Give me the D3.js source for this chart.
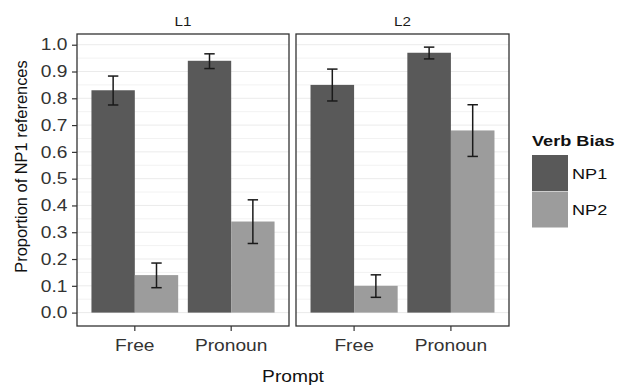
<!DOCTYPE html>
<html>
<head>
<meta charset="utf-8">
<script src="https://cdn.jsdelivr.net/npm/d3@7"></script>
<style>
  body { margin: 0; background: #fff; }
  svg { display: block; font-family: "Liberation Sans", Arial, sans-serif; }
</style>
</head>
<body>
<svg id="chart" width="618" height="385"></svg>
<script>
// data
const languages = ["L1", "L2"];
const prompts = ["Free", "Pronoun"];
const biases = ["NP1", "NP2"];

// mean proportion, per prompt (Free, Pronoun)
const l1NP1 = [0.83, 0.94];
const l1NP2 = [0.14, 0.34];
const l2NP1 = [0.85, 0.97];
const l2NP2 = [0.10, 0.68];

// error bar ends
const l1NP1Lo = [0.775, 0.911], l1NP1Hi = [0.883, 0.966];
const l1NP2Lo = [0.093, 0.258], l1NP2Hi = [0.185, 0.421];
const l2NP1Lo = [0.790, 0.947], l2NP1Hi = [0.909, 0.991];
const l2NP2Lo = [0.057, 0.583], l2NP2Hi = [0.141, 0.776];

const yTicks = [0, 0.1, 0.2, 0.3, 0.4, 0.5, 0.6, 0.7, 0.8, 0.9, 1.0];

const colors = { NP1: "#595959", NP2: "#9c9c9c" };

// the source image is stretched sideways, so horizontal text gets widened
const SX = 1.17;

// build rows
const series = {
  L1: { NP1: [l1NP1, l1NP1Lo, l1NP1Hi], NP2: [l1NP2, l1NP2Lo, l1NP2Hi] },
  L2: { NP1: [l2NP1, l2NP1Lo, l2NP1Hi], NP2: [l2NP2, l2NP2Lo, l2NP2Hi] }
};
const rows = [];
languages.forEach(lang => {
  biases.forEach(b => {
    const [m, lo, hi] = series[lang][b];
    prompts.forEach((p, i) => rows.push({ lang, prompt: p, bias: b, y: m[i], lo: lo[i], hi: hi[i] }));
  });
});

const svg = d3.select("#chart");

const pTop = 34, pBottom = 326;
const panels = { L1: [77, 289], L2: [296, 509] };

const y = d3.scaleLinear().domain([-0.05, 1.04]).range([pBottom, pTop]);

languages.forEach(lang => {
  const [x0, x1] = panels[lang];
  const x = d3.scaleBand().domain(prompts).range([x0, x1]).paddingInner(0.1).paddingOuter(0.15);
  const xb = d3.scaleBand().domain(biases).range([0, x.bandwidth()]);

  const g = svg.append("g").attr("class", "panel-" + lang);

  g.append("rect")
    .attr("x", x0).attr("y", pTop)
    .attr("width", x1 - x0).attr("height", pBottom - pTop)
    .attr("fill", "#fff");

  // grid (major + minor)
  const minor = d3.range(0.05, 1.04, 0.1);
  g.selectAll("line.minor").data(minor).enter().append("line")
    .attr("class", "minor")
    .attr("x1", x0).attr("x2", x1)
    .attr("y1", d => y(d)).attr("y2", d => y(d))
    .attr("stroke", "#f2f2f2").attr("stroke-width", 1);
  g.selectAll("line.major").data(yTicks).enter().append("line")
    .attr("class", "major")
    .attr("x1", x0).attr("x2", x1)
    .attr("y1", d => y(d)).attr("y2", d => y(d))
    .attr("stroke", "#ebebeb").attr("stroke-width", 1);

  const data = rows.filter(r => r.lang === lang);

  g.selectAll("rect.bar").data(data).enter().append("rect")
    .attr("class", "bar")
    .attr("x", d => x(d.prompt) + xb(d.bias))
    .attr("width", xb.bandwidth())
    .attr("y", d => y(d.y))
    .attr("height", d => y(0) - y(d.y))
    .attr("fill", d => colors[d.bias]);

  // error bars
  const cap = xb.bandwidth() * 0.12;
  const eb = g.selectAll("g.err").data(data).enter().append("g")
    .attr("class", "err")
    .attr("transform", d => "translate(" + (x(d.prompt) + xb(d.bias) + xb.bandwidth() / 2) + ",0)")
    .attr("stroke", "#1a1a1a").attr("stroke-width", 1.5);
  eb.append("line").attr("x1", 0).attr("x2", 0).attr("y1", d => y(d.lo)).attr("y2", d => y(d.hi));
  eb.append("line").attr("x1", -cap).attr("x2", cap).attr("y1", d => y(d.lo)).attr("y2", d => y(d.lo));
  eb.append("line").attr("x1", -cap).attr("x2", cap).attr("y1", d => y(d.hi)).attr("y2", d => y(d.hi));

  // border
  g.append("rect")
    .attr("x", x0).attr("y", pTop)
    .attr("width", x1 - x0).attr("height", pBottom - pTop)
    .attr("fill", "none").attr("stroke", "#333").attr("stroke-width", 1.3);

  // x axis
  const xAxis = g.append("g")
    .attr("transform", "translate(0," + pBottom + ")")
    .call(d3.axisBottom(x).tickSize(5).tickPadding(8));
  xAxis.select(".domain").remove();
  xAxis.selectAll(".tick line").attr("stroke", "#333").attr("stroke-width", 1.2);
  xAxis.selectAll(".tick text")
    .attr("fill", "#333").style("font-size", "16.4px")
    .attr("transform", "scale(" + SX + ",1)");

  // strip label
  g.append("text")
    .attr("transform", "translate(" + (x0 + x1) / 2 + ",26) scale(" + SX + ",1)")
    .attr("text-anchor", "middle")
    .attr("fill", "#1a1a1a").style("font-size", "13px")
    .text(lang);
});

// y axis
const yAxis = svg.append("g")
  .attr("transform", "translate(77,0)")
  .call(d3.axisLeft(y).tickValues(yTicks).tickFormat(d3.format(".1f")).tickSize(5).tickPadding(3));
yAxis.select(".domain").remove();
yAxis.selectAll(".tick line").attr("stroke", "#333").attr("stroke-width", 1.2);
yAxis.selectAll(".tick text")
  .attr("fill", "#333").style("font-size", "16.4px")
  .attr("x", -9.5 / SX)
  .attr("transform", "scale(" + SX + ",1)");

// axis titles
svg.append("text")
  .attr("transform", "translate(26.5,166.5) rotate(-90)")
  .attr("text-anchor", "middle")
  .attr("fill", "#111").style("font-size", "16.4px")
  .text("Proportion of NP1 references");

svg.append("text")
  .attr("transform", "translate(293,381.5) scale(" + SX + ",1)")
  .attr("text-anchor", "middle")
  .attr("fill", "#111").style("font-size", "16.4px")
  .text("Prompt");

// legend
const leg = svg.append("g").attr("transform", "translate(532,0)");
leg.append("text")
  .attr("transform", "translate(0,146) scale(" + SX + ",1)")
  .attr("fill", "#111").style("font-size", "15.5px").style("font-weight", "bold")
  .text("Verb Bias");
const keys = leg.selectAll("g.key").data(biases).enter().append("g")
  .attr("class", "key")
  .attr("transform", (d, i) => "translate(0," + (155 + i * 36.5) + ")");
keys.append("rect")
  .attr("width", 36).attr("height", 36)
  .attr("fill", d => colors[d]);
keys.append("text")
  .attr("transform", "translate(40,18) scale(" + SX + ",1)")
  .attr("dy", "0.36em")
  .attr("fill", "#111").style("font-size", "15.5px")
  .text(d => d);
</script>
</body>
</html>
